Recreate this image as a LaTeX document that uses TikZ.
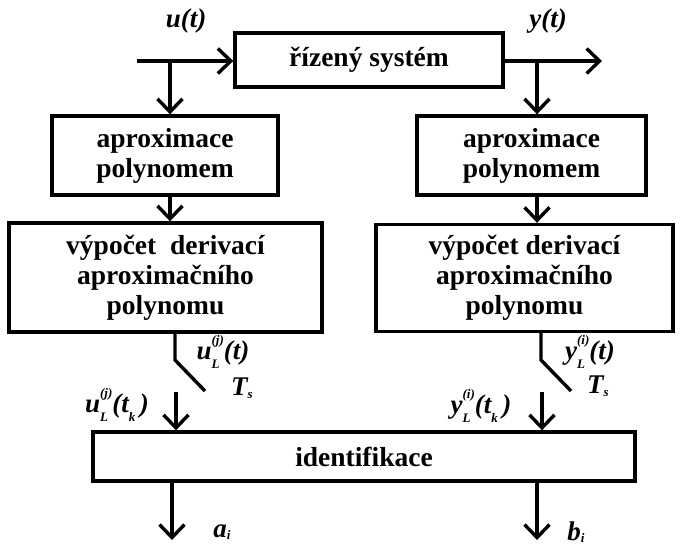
\documentclass[tikz,border=0pt]{standalone}
\usepackage{fontspec}
\setmainfont{Liberation Serif}
\usetikzlibrary{arrows.meta}
\tikzset{
  block/.style={draw, line width=3.4pt, inner sep=0pt, align=center,
    font=\bfseries\fontsize{27.5}{30}\selectfont},
  wire/.style={line width=3.4pt},
  arr/.style={wire, -{Straight Barb[length=13pt, width=25pt, line width=3.4pt]}},
  lbl/.style={inner sep=0pt, font=\bfseries\itshape\fontsize{27}{28}\selectfont},
}
\newcommand{\sig}[3]{#1\rlap{\raisebox{-0.35em}{\fontsize{13}{13}\selectfont #2}}\raisebox{0.55em}{\fontsize{13}{13}\selectfont(#3)}}
\newcommand{\idx}[1]{\raisebox{-0.1em}{\fontsize{13}{13}\selectfont #1}}
\begin{document}
\begin{tikzpicture}[x=1pt, y=-1pt]
\useasboundingbox (0,0) rectangle (680,547);

% blocks
\node[block, minimum width=268pt, minimum height=54pt] (sys) at (369,60) {řízený systém};
\node[block, minimum width=226pt, minimum height=79pt] (apL) at (165,155.5) {aproximace\\polynomem};
\node[block, minimum width=229pt, minimum height=79pt] (apR) at (531.5,155.5) {aproximace\\polynomem};
\node[block, minimum width=313pt, minimum height=109pt] (dL) at (165.5,277.5) {výpočet\ \ derivací\\aproximačního\\polynomu};
\node[block, minimum width=297pt, minimum height=107pt] (dR) at (524.5,278) {výpočet derivací\\aproximačního\\polynomu};
\node[block, minimum width=542pt, minimum height=49pt] (id) at (364,456.5) {identifikace};

% input and output of the plant
\coordinate (uin) at (137,61);
\coordinate (yout) at (602,61);
\coordinate (bu) at (170,61);
\coordinate (by) at (537,61);
\draw[arr] (uin) -- (uin -| sys.west);
\draw[arr] (sys.east |- yout) -- (yout);
\draw[arr] (bu) -- (bu |- apL.north);
\draw[arr] (by) -- (by |- apR.north);
\node[lbl] (ut) at (186,21) {u(t)};
\node[lbl] (yt) at (548,21) {y(t)};

% between approximation and derivative blocks
\draw[arr] (bu |- apL.south) -- (bu |- dL.north);
\draw[arr] (by |- apR.south) -- (by |- dR.north);

% sampling switches
\coordinate (swL) at (175,360);
\coordinate (swR) at (541,360);
\draw[wire] (swL |- dL.south) -- (swL) -- ++(30,31);
\draw[wire] (swR |- dR.south) -- (swR) -- ++(30,31);
\node[lbl] (uLt) at (223,352) {\sig{u}{L}{j}(t)};
\node[lbl] (TsL) at (242,388) {T\idx{s}};
\node[lbl] (yLt) at (590,352) {\sig{y}{L}{i}(t)};
\node[lbl] (TsR) at (598,386) {T\idx{s}};

% sampled derivatives into identification
\coordinate (sL) at (176,392);
\coordinate (sR) at (542,392);
\draw[arr] (sL) -- (sL |- id.north);
\draw[arr] (sR) -- (sR |- id.north);
\node[lbl] (uLk) at (117,405) {\sig{u}{L}{j}(t\raisebox{-0.35em}{\fontsize{13}{13}\selectfont k}\,)};
\node[lbl] (yLk) at (481,406) {\sig{y}{L}{i}(t\raisebox{-0.35em}{\fontsize{13}{13}\selectfont k}\,)};

% identified parameters
\coordinate (oa) at (172,540);
\coordinate (ob) at (537,540);
\draw[arr] (oa |- id.south) -- (oa);
\draw[arr] (ob |- id.south) -- (ob);
\node[lbl] (ai) at (222,532) {a\idx{i}};
\node[lbl] (bi) at (576,532) {b\idx{i}};
\end{tikzpicture}
\end{document}
